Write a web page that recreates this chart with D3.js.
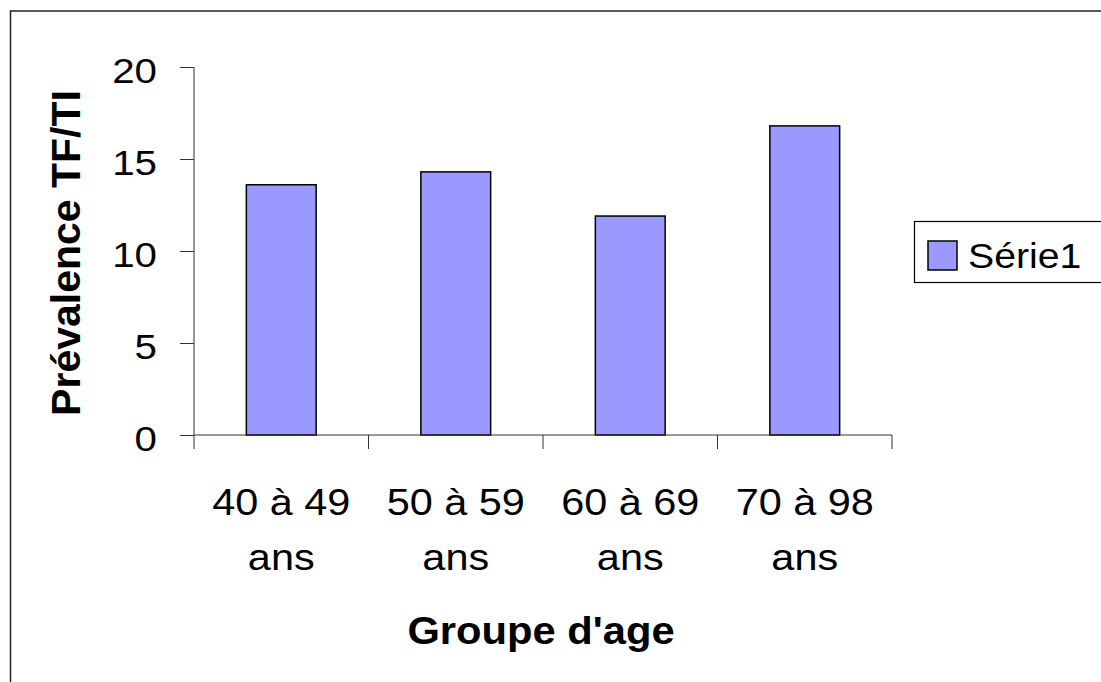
<!DOCTYPE html>
<html><head><meta charset="utf-8">
<script src="https://cdn.jsdelivr.net/npm/d3@7"></script>
<style>
html,body{margin:0;padding:0;background:#fff;overflow:hidden;}
text{font-family:Arial,"Liberation Sans",sans-serif;fill:#000;}
</style></head>
<body>
<svg id="chart" width="1101" height="682"></svg>
<script>
const categories = ["40 à 49|ans", "50 à 59|ans", "60 à 69|ans", "70 à 98|ans"];
const values = [13.6, 14.3, 11.9, 16.8];
const yTicks = [0, 5, 10, 15, 20];
const seriesName = "Série1";
const yTitle = "Prévalence TF/TI";
const xTitle = "Groupe d'age";

(function () {
const svg = d3.select("#chart");
const pL = 194, pR = 892, pT = 67, pB = 435;
const SX = 1.12;

// outer frame
svg.append("rect").attr("x", 10.5).attr("y", 11).attr("width", 1200).attr("height", 800)
  .attr("fill", "#fff").attr("stroke", "#222").attr("stroke-width", 1.5);

const x = d3.scaleBand().domain(categories).range([pL, pR]).paddingInner(0.6).paddingOuter(0.3);
const xb = d3.scaleBand().domain(categories).range([pL, pR]);
const y = d3.scaleLinear().domain([0, 20]).range([pB, pT]);

// bars
svg.selectAll("rect.bar").data(values).join("rect").attr("class", "bar")
  .attr("x", (d, i) => x(categories[i]))
  .attr("width", x.bandwidth())
  .attr("y", d => y(d))
  .attr("height", d => y(0) - y(d))
  .attr("fill", "#9999FF").attr("stroke", "#000").attr("stroke-width", 1.5);

// y axis
const yAxis = d3.axisLeft(y).tickValues(yTicks).tickSize(14).tickFormat("");
const gy = svg.append("g").attr("transform", `translate(${pL},0)`).call(yAxis);
gy.select(".domain").attr("stroke", "#333").attr("d", `M0,${pT}V${pB}`);
gy.selectAll(".tick line").attr("stroke", "#333");
yTicks.forEach(t => {
  svg.append("text").attr("transform", `translate(157,${y(t) + 15.5}) scale(${SX},1)`)
    .attr("text-anchor", "end").attr("font-size", 36).text(t);
});

// x axis
const gx = svg.append("g").attr("transform", `translate(0,${pB})`)
  .call(d3.axisBottom(xb).tickSize(0).tickFormat(""));
gx.select(".domain").attr("stroke", "#333").attr("d", `M${pL},0H${pR}`);
const edges = categories.map(c => xb(c)).concat([pR]);
gx.selectAll("line.edge").data(edges).join("line").attr("class", "edge")
  .attr("x1", d => d).attr("x2", d => d).attr("y1", 0).attr("y2", 14).attr("stroke", "#333");

categories.forEach(c => {
  const cx = xb(c) + xb.bandwidth() / 2;
  c.split("|").forEach((line, k) => {
    svg.append("text").attr("transform", `translate(${cx},${515 + k * 55}) scale(${SX},1)`)
      .attr("text-anchor", "middle").attr("font-size", 37).text(line);
  });
});

// titles
svg.append("text").attr("transform", `translate(541,644) scale(1.07,1)`)
  .attr("text-anchor", "middle").attr("font-size", 39).attr("font-weight", "bold").text(xTitle);
svg.append("text").attr("transform", `translate(80,253) rotate(-90)`)
  .attr("text-anchor", "middle").attr("font-size", 41).attr("font-weight", "bold").text(yTitle);

// legend
svg.append("rect").attr("x", 914.5).attr("y", 221.5).attr("width", 300).attr("height", 61)
  .attr("fill", "#fff").attr("stroke", "#000").attr("stroke-width", 1.2);
svg.append("rect").attr("x", 928).attr("y", 241).attr("width", 29).attr("height", 29)
  .attr("fill", "#9999FF").attr("stroke", "#000").attr("stroke-width", 1.5);
svg.append("text").attr("transform", `translate(968,268) scale(1.12,1)`)
  .attr("font-size", 35).text(seriesName);
})();
</script>
</body></html>
